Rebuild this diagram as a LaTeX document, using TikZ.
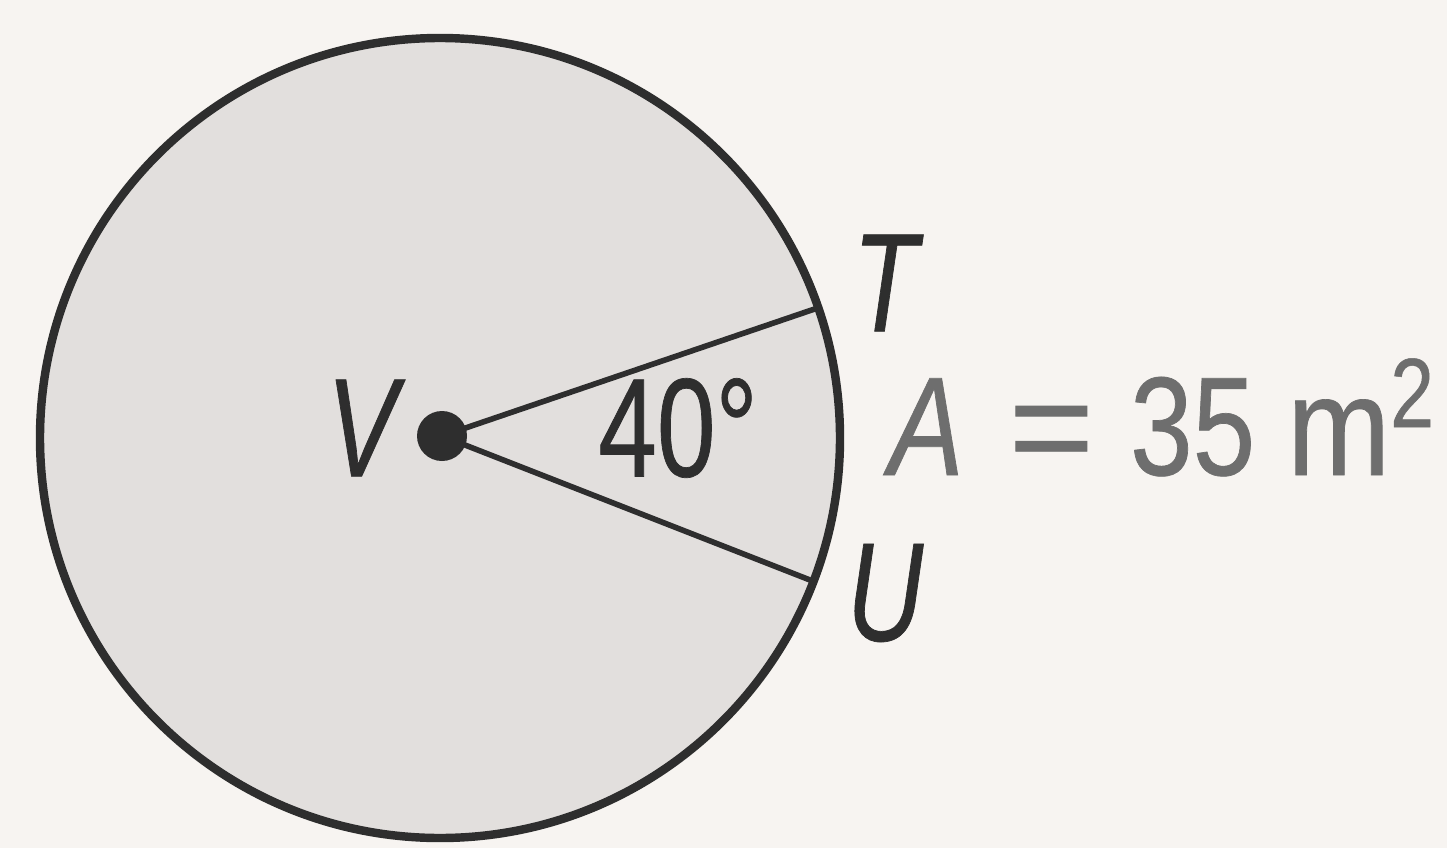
\documentclass[tikz,border=0pt]{standalone}
\usepackage{fontspec}
\usepackage{xcolor}
\usepackage{graphicx}
\usetikzlibrary{calc}
\newfontfamily\labelfont[FakeStretch=0.75, FakeBold=0.5]{Liberation Sans}
\newfontfamily\areafont[FakeStretch=0.8, FakeBold=0.5]{Liberation Sans}
\definecolor{paper}{HTML}{F7F4F1}
\definecolor{disc}{HTML}{E2DFDD}
\definecolor{ink}{HTML}{2E2E2E}
\definecolor{faint}{HTML}{6E6E6E}

\begin{document}
\begin{tikzpicture}[
    lbl/.style={inner sep=0pt, text=ink, font=\labelfont\fontsize{40}{44}\selectfont},
    radius line/.style={draw=ink, line width=1.6pt}]
    \fill[paper] (0,0) rectangle (14.47,8.48);
    \useasboundingbox (0,0) rectangle (14.47,8.48);
    % the circle and its centre
    \coordinate (O) at (4.40,4.10);
    \draw[fill=disc, draw=ink, line width=2.4pt] (O) circle (4.0);
    \coordinate (T) at ($(O)+(19:4.0)$);
    \coordinate (U) at ($(O)+(-21:4.0)$);
    \node[circle, fill=ink, minimum size=5mm, inner sep=0pt] (V) at (4.42,4.12) {};
    \draw[radius line] (V.center) -- (T);
    \draw[radius line] (V.center) -- (U);
    % labels
    \node[lbl] (Vlbl) at (3.62,4.20) {\itshape V};
    \node[lbl] (Tlbl) at (8.85,5.65) {\itshape T};
    \node[lbl] (Ulbl) at (8.85,2.55) {\itshape U};
    \node[lbl] (angle) at (6.78,4.20) {40°};
    \node[lbl, font=\areafont\fontsize{40}{44}\selectfont, text=faint, anchor=base west] (area) at (8.88,3.73)
        {\itshape A\upshape\hspace{0.45cm}\scalebox{1.3}[1]{=}\hspace{0.36cm}35\hspace{0.32cm}\scalebox{1.1}[1]{m}%
         \raisebox{0.48cm}{\fontsize{28}{30}\selectfont 2}};
\end{tikzpicture}
\end{document}
